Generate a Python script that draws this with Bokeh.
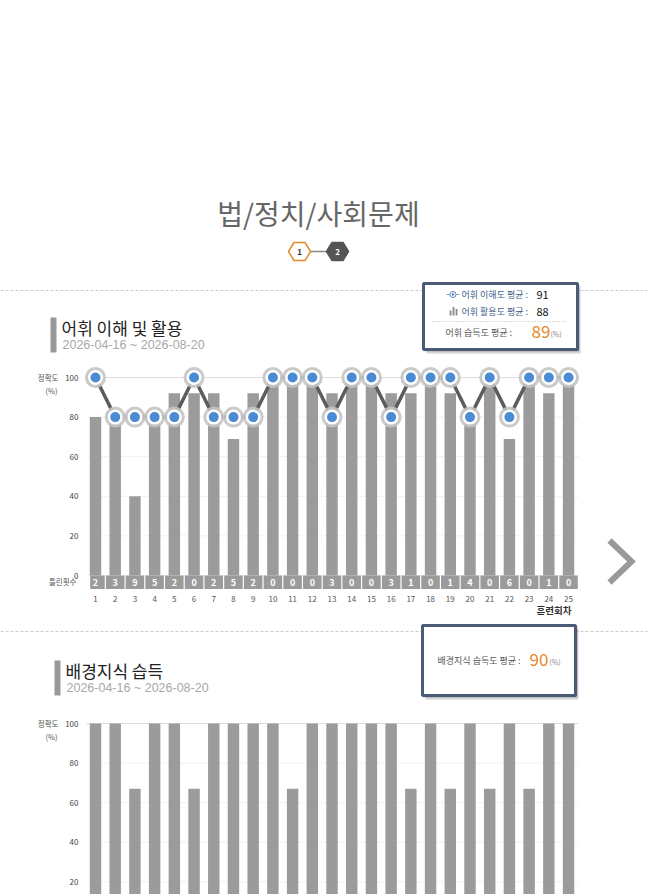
from bokeh.plotting import figure
from bokeh.layouts import column
from bokeh.models import Range1d
from bokeh.core.properties import value
from bokeh.embed import file_html
from bokeh.resources import INLINE

# ---------------- data ----------------
rounds = list(range(1, 26))
round_labels = [str(r) for r in rounds]
understanding = [100, 80, 80, 80, 80, 100, 80, 80, 80, 100, 100, 100, 80,
                 100, 100, 80, 100, 100, 100, 80, 100, 80, 100, 100, 100]
usage = [80, 80, 40, 80, 92, 92, 92, 69, 92, 100, 100, 100, 92,
         100, 100, 92, 92, 100, 92, 80, 100, 69, 100, 92, 100]
wrong_counts = [2, 3, 9, 5, 2, 0, 2, 5, 2, 0, 0, 0, 3,
                0, 0, 3, 1, 0, 1, 4, 0, 6, 0, 1, 0]
background = [100, 100, 67, 100, 100, 67, 100, 100, 100, 100, 67, 100, 100,
              100, 100, 100, 67, 100, 67, 100, 67, 100, 67, 100, 100]
y_ticks = [0, 20, 40, 60, 80, 100]
y_tick_labels = [str(t) for t in y_ticks]

page_title = "법/정치/사회문제"
page_steps = ["1", "2"]
section1_title = "어휘 이해 및 활용"
section2_title = "배경지식 습득"
date_range = "2026-04-16 ~ 2026-08-20"
understanding_avg_label = "어휘 이해도 평균 :"
understanding_avg = "91"
usage_avg_label = "어휘 활용도 평균 :"
usage_avg = "88"
vocab_avg_label = "어휘 습득도 평균 :"
vocab_avg = "89"
background_avg_label = "배경지식 습득도 평균 :"
background_avg = "90"
pct_unit = "(%)"
y_axis_title = "정확도"
wrong_title = "틀린횟수"
x_axis_title = "훈련회차"

# ---------------- style ----------------
KR = "Noto Sans CJK KR"
NARROW = "Liberation Sans Narrow, Liberation Sans, sans-serif"
W = 655
X1_PX = 95.0        # page x of round 1
PX_ROUND = 19.71    # px per round
PX_PCT = 1.98       # px per percent
BAR = "#9b9b9b"
ORANGE = "#e3892c"
BOX_LINE = "#4b5a76"


def base_fig(top, bottom, x_range, y_range):
    p = figure(width=W, height=bottom - top, x_range=x_range, y_range=y_range,
               output_backend="svg", toolbar_location=None, x_axis_location=None,
               y_axis_location=None, min_border=0, outline_line_color=None, title=None)
    p.xgrid.visible = False
    p.ygrid.visible = False
    return p


def header_fig(top, bottom):
    return base_fig(top, bottom, Range1d(0, W), Range1d(bottom, top))


def legend_box(p, l, r, t, b):
    p.quad(left=l + 3, right=r + 3, top=t + 3, bottom=b + 4, fill_color="#555555",
           fill_alpha=0.25, line_color=None)
    p.quad(left=l + 1, right=r + 2, top=t + 1, bottom=b + 2, fill_color="#555555",
           fill_alpha=0.3, line_color=None)
    p.quad(left=l, right=r, top=t, bottom=b, fill_color="white",
           line_color=BOX_LINE, line_width=3)


def section_title(p, x, ytop, ybot, title, date):
    p.quad(left=x, right=x + 6, top=ytop, bottom=ybot, fill_color="#999999", line_color=None)
    p.text(x=[x + 11], y=[ytop + 10], text=[title], text_font=value(KR), text_font_size="17px",
           text_color="#222222", text_baseline="middle")
    p.text(x=[x + 12], y=[ytop + 27], text=[date], text_font=value(NARROW), text_font_size="12.5px",
           text_color="#a8a8a8", text_baseline="middle")


def chart_fig(top, bottom, zero_py):
    dx = lambda px: 1 + (px - X1_PX) / PX_ROUND
    dy = lambda py: (zero_py - py) / PX_PCT
    p = base_fig(top, bottom, Range1d(dx(0), dx(W)), Range1d(dy(bottom), dy(top)))
    top_tick = max(y_ticks)
    # grid lines limited to the plotting band
    p.segment(x0=[0.55] * len(y_ticks), x1=[25.5] * len(y_ticks), y0=y_ticks, y1=y_ticks,
              line_color=["#dddddd" if t == top_tick else "#f1f1f1" for t in y_ticks],
              line_width=1)
    # y tick labels (only those fully inside the figure)
    lowest = dy(bottom - 6)
    vis = [(t, s) for t, s in zip(y_ticks, y_tick_labels) if t >= lowest]
    p.text(x=[dx(78)] * len(vis), y=[t for t, _ in vis], text=[s for _, s in vis],
           text_font=value(KR), text_font_size="8px", text_color="#444444",
           text_align="right", text_baseline="middle")
    # y axis title
    p.text(x=[dx(58)], y=[top_tick], text=[y_axis_title], text_font=value(KR),
           text_font_size="7.5px", text_color="#555555", text_align="right", text_baseline="middle")
    p.text(x=[dx(51)], y=[top_tick - 13 / PX_PCT], text=[pct_unit], text_font=value(KR),
           text_font_size="7.5px", text_color="#555555", text_align="center", text_baseline="middle")
    return p, dx, dy


# ---------------- header 1 ----------------
pA = header_fig(0, 365)
pA.text(x=[318], y=[212], text=[page_title], text_font=value(KR), text_font_size="28px",
        text_color="#666666", text_align="center", text_baseline="middle")
hex_cx = [299, 337]
hex_cy = 251
hx, hy = 11, 9
pA.line(x=[hex_cx[0] + hx, hex_cx[1] - hx], y=[hex_cy, hex_cy], line_color="#888888", line_width=1.5)
pA.patches(xs=[[c - hx, c - hx / 2, c + hx / 2, c + hx, c + hx / 2, c - hx / 2] for c in hex_cx],
           ys=[[hex_cy, hex_cy - hy, hex_cy - hy, hex_cy, hex_cy + hy, hex_cy + hy] for c in hex_cx],
           fill_color=["white", "#555555"], line_color=[ORANGE, "#555555"], line_width=1.5)
pA.text(x=hex_cx, y=[hex_cy + 0.5] * 2, text=page_steps, text_font=value(KR), text_font_size="8px",
        text_font_style="bold", text_color=["#333333", "white"], text_align="center",
        text_baseline="middle")
pA.line(x=[0, 647], y=[290, 290], line_color="#cccccc", line_width=1, line_dash="3 2")
section_title(pA, 50, 317, 352, section1_title, date_range)
legend_box(pA, 423, 577, 283, 349)
# row icons
pA.line(x=[446, 459], y=[294, 294], line_color="#8ea3c4", line_width=1)
pA.scatter(x=[452.5], y=[294], size=6, fill_color="white", line_color="#5b84c4", line_width=1)
pA.scatter(x=[452.5], y=[294], size=2.5, fill_color="#5b84c4", line_color=None)
pA.vbar(x=[450, 453, 456], top=[310, 306.5, 308.5], bottom=[315, 315, 315], width=1.8,
        fill_color="#8a8a8a", line_color=None)
pA.text(x=[461, 461, 445], y=[294, 311, 332],
        text=[understanding_avg_label, usage_avg_label, vocab_avg_label],
        text_font=value(KR), text_font_size="9px",
        text_color=["#3f5f90", "#3f5f90", "#555555"], text_baseline="middle")
pA.text(x=[536, 536], y=[294, 311], text=[understanding_avg, usage_avg], text_font=value(KR),
        text_font_size="11px", text_color="#111111", text_baseline="middle")
pA.line(x=[432, 566], y=[321, 321], line_color="#bbbbbb", line_width=1, line_dash="1 2")
pA.text(x=[531], y=[331], text=[vocab_avg], text_font=value(KR), text_font_size="17px",
        text_color=ORANGE, text_baseline="middle")
pA.text(x=[550], y=[333], text=[pct_unit], text_font=value(KR), text_font_size="7px",
        text_color="#888888", text_baseline="middle")

# ---------------- chart 1 ----------------
pB, dxB, dyB = chart_fig(365, 618, 575)
pB.vbar(x=rounds, top=usage, bottom=0, width=0.58, fill_color=BAR, line_color=None)
cell_left = [max(r - 0.5, 0.7) + 0.03 for r in rounds]
cell_right = [min(r + 0.5, 25.5) - 0.03 for r in rounds]
pB.quad(left=cell_left, right=cell_right, top=0, bottom=dyB(588.5), fill_color=BAR, line_color=None)
pB.text(x=rounds, y=[dyB(581.5)] * len(rounds), text=[str(v) for v in wrong_counts],
        text_font=value(KR), text_font_size="9px", text_font_style="bold", text_color="white",
        text_align="center", text_baseline="middle")
pB.line(x=rounds, y=understanding, line_color="#5c5c5c", line_width=3.5)
pB.scatter(x=rounds, y=understanding, size=21, fill_color="#c4c4c4", fill_alpha=0.9, line_color=None)
pB.scatter(x=rounds, y=understanding, size=15, fill_color="white", line_color=None)
pB.scatter(x=rounds, y=understanding, size=10, fill_color="#4a8bd4", line_color=None)
# x tick labels
pB.text(x=rounds, y=[dyB(598)] * len(rounds), text=round_labels, text_font=value(KR),
        text_font_size="8px", text_color="#555555", text_align="center", text_baseline="middle")
pB.text(x=[dxB(76)], y=[dyB(581)], text=[wrong_title], text_font=value(KR),
        text_font_size="7.5px", text_color="#555555", text_align="right", text_baseline="middle")
pB.text(x=[dxB(571)], y=[dyB(609)], text=[x_axis_title], text_font=value(KR),
        text_font_size="9.5px", text_font_style="bold", text_color="#333333",
        text_align="right", text_baseline="middle")
# next arrow
pB.line(x=[dxB(609), dxB(631), dxB(609)], y=[dyB(540), dyB(561), dyB(582)],
        line_color="#999999", line_width=6, line_join="miter")

# ---------------- header 2 ----------------
pC = header_fig(618, 700)
pC.line(x=[0, 647], y=[631, 631], line_color="#cccccc", line_width=1, line_dash="3 2")
section_title(pC, 54, 660, 695, section2_title, date_range)
legend_box(pC, 422, 575, 625, 695)
pC.text(x=[437], y=[660], text=[background_avg_label], text_font=value(KR), text_font_size="9px",
        text_color="#555555", text_baseline="middle")
pC.text(x=[529], y=[659], text=[background_avg], text_font=value(KR), text_font_size="17px",
        text_color=ORANGE, text_baseline="middle")
pC.text(x=[549], y=[661], text=[pct_unit], text_font=value(KR), text_font_size="7px",
        text_color="#888888", text_baseline="middle")

# ---------------- chart 2 ----------------
pD, dxD, dyD = chart_fig(700, 894, 723 + 100 * PX_PCT)
pD.vbar(x=rounds, top=background, bottom=0, width=0.58, fill_color=BAR, line_color=None)

layout = column(pA, pB, pC, pD, spacing=0)
open("out.html", "w").write(file_html(layout, INLINE))
